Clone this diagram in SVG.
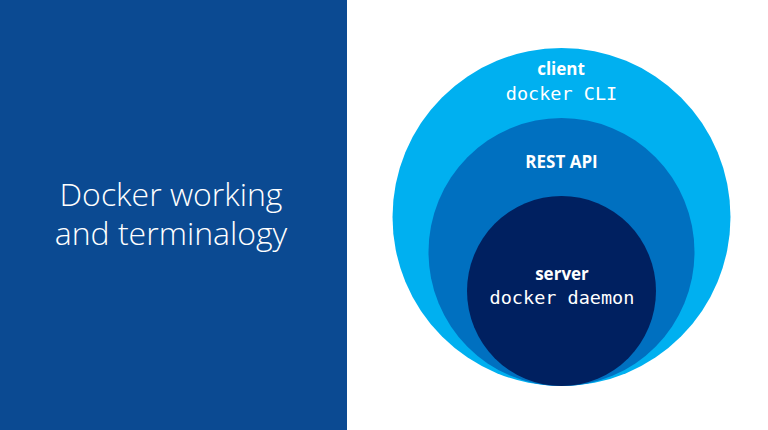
<svg xmlns="http://www.w3.org/2000/svg" width="768" height="430" viewBox="0 0 768 430">
<style>
.t{font-family:"Open Sans","Noto Sans",sans-serif;fill:#fff;font-size:32px;font-weight:300;text-anchor:middle}
.b{font-family:"Open Sans","Noto Sans",sans-serif;font-weight:700;font-size:17px;fill:#fff;text-anchor:middle}
.m{font-family:"DejaVu Sans Mono",monospace;font-size:18.5px;fill:#fff;text-anchor:middle}
</style>
<rect width="768" height="430" fill="#fff"/>
<rect id="panel" width="347" height="430" fill="#0b4a92"/>
<text class="t" x="171" y="206">Docker working</text>
<text class="t" x="171" y="245">and terminalogy</text>
<g id="client"><ellipse cx="561.5" cy="217" rx="169" ry="169" fill="#00b0f0"/><text class="b" x="561" y="75">client</text><text class="m" x="561.5" y="100">docker CLI</text></g>
<g id="rest"><ellipse cx="561.5" cy="252" rx="133" ry="134" fill="#0070c0"/><text class="b" x="561.5" y="168">REST API</text></g>
<g id="server"><ellipse cx="561.5" cy="291" rx="94.5" ry="95" fill="#002060"/><text class="b" x="562" y="279.500">server</text><text class="m" x="562" y="304">docker daemon</text></g>
<g id="connectors"/>
</svg>
